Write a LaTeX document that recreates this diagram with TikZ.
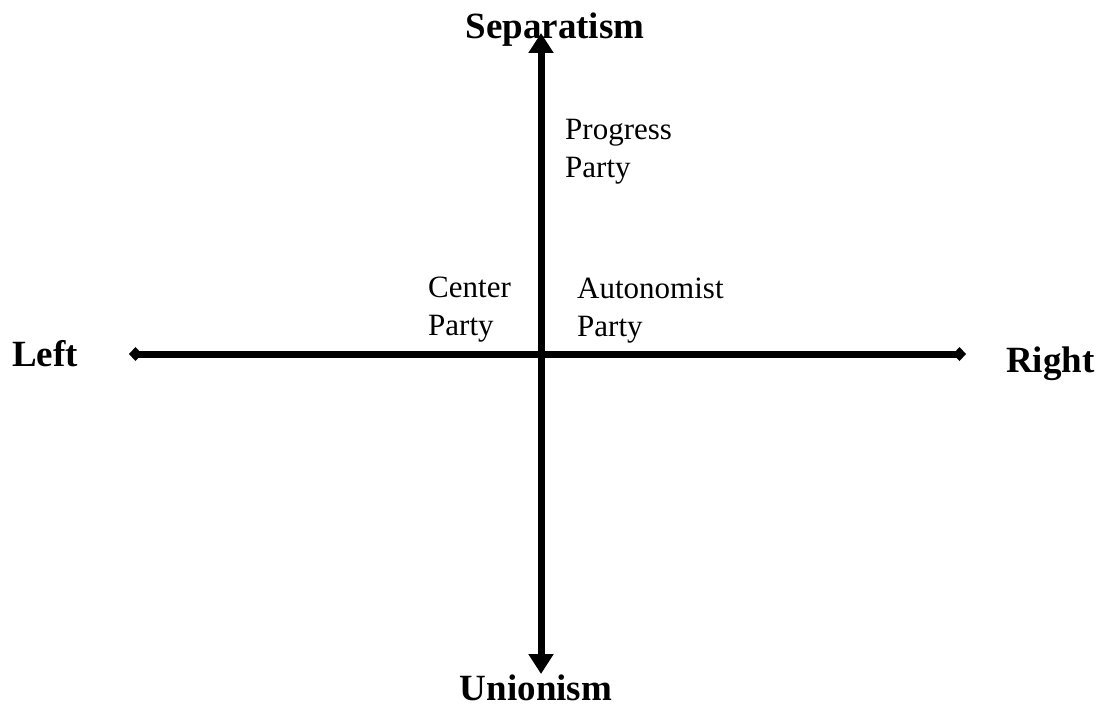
\documentclass[tikz,border=0pt]{standalone}
\usepackage{fontspec}
\setmainfont{Liberation Serif}
\usetikzlibrary{arrows.meta}
\begin{document}
\begin{tikzpicture}[x=1pt,y=-1pt,
  axislabel/.style={font=\fontsize{37}{40}\selectfont\bfseries, inner sep=0pt},
  partylabel/.style={font=\fontsize{31}{38}\selectfont, inner sep=0pt, anchor=base west},
  axisline/.style={line width=7pt}]
\useasboundingbox (0,0) rectangle (1099,709);
\coordinate (L) at (129,354);
\coordinate (R) at (966,354);
\coordinate (T) at (541,33);
\coordinate (B) at (541,674);
\draw[axisline, {Diamond[width=14pt,length=13pt]}-{Diamond[width=14pt,length=13pt]}] (L) -- (R);
\draw[axisline, {Triangle[width=24pt,length=20pt]}-{Triangle[width=24pt,length=20pt]}] (T) -- (B);
\node[axislabel, anchor=base] (sep) at (555,38) {Separatism};
\node[axislabel, anchor=base] (uni) at (536,700) {Unionism};
\node[axislabel, anchor=base west] (left) at (12,366) {Left};
\node[axislabel, anchor=base west] (right) at (1006,372) {Right};
\node[partylabel] (prog) at (565,139) {\begin{tabular}[t]{@{}l@{}}Progress\\Party\end{tabular}};
\node[partylabel] (cent) at (428,297) {\begin{tabular}[t]{@{}l@{}}Center\\Party\end{tabular}};
\node[partylabel] (auto) at (577,298) {\begin{tabular}[t]{@{}l@{}}Autonomist\\Party\end{tabular}};
\end{tikzpicture}
\end{document}
